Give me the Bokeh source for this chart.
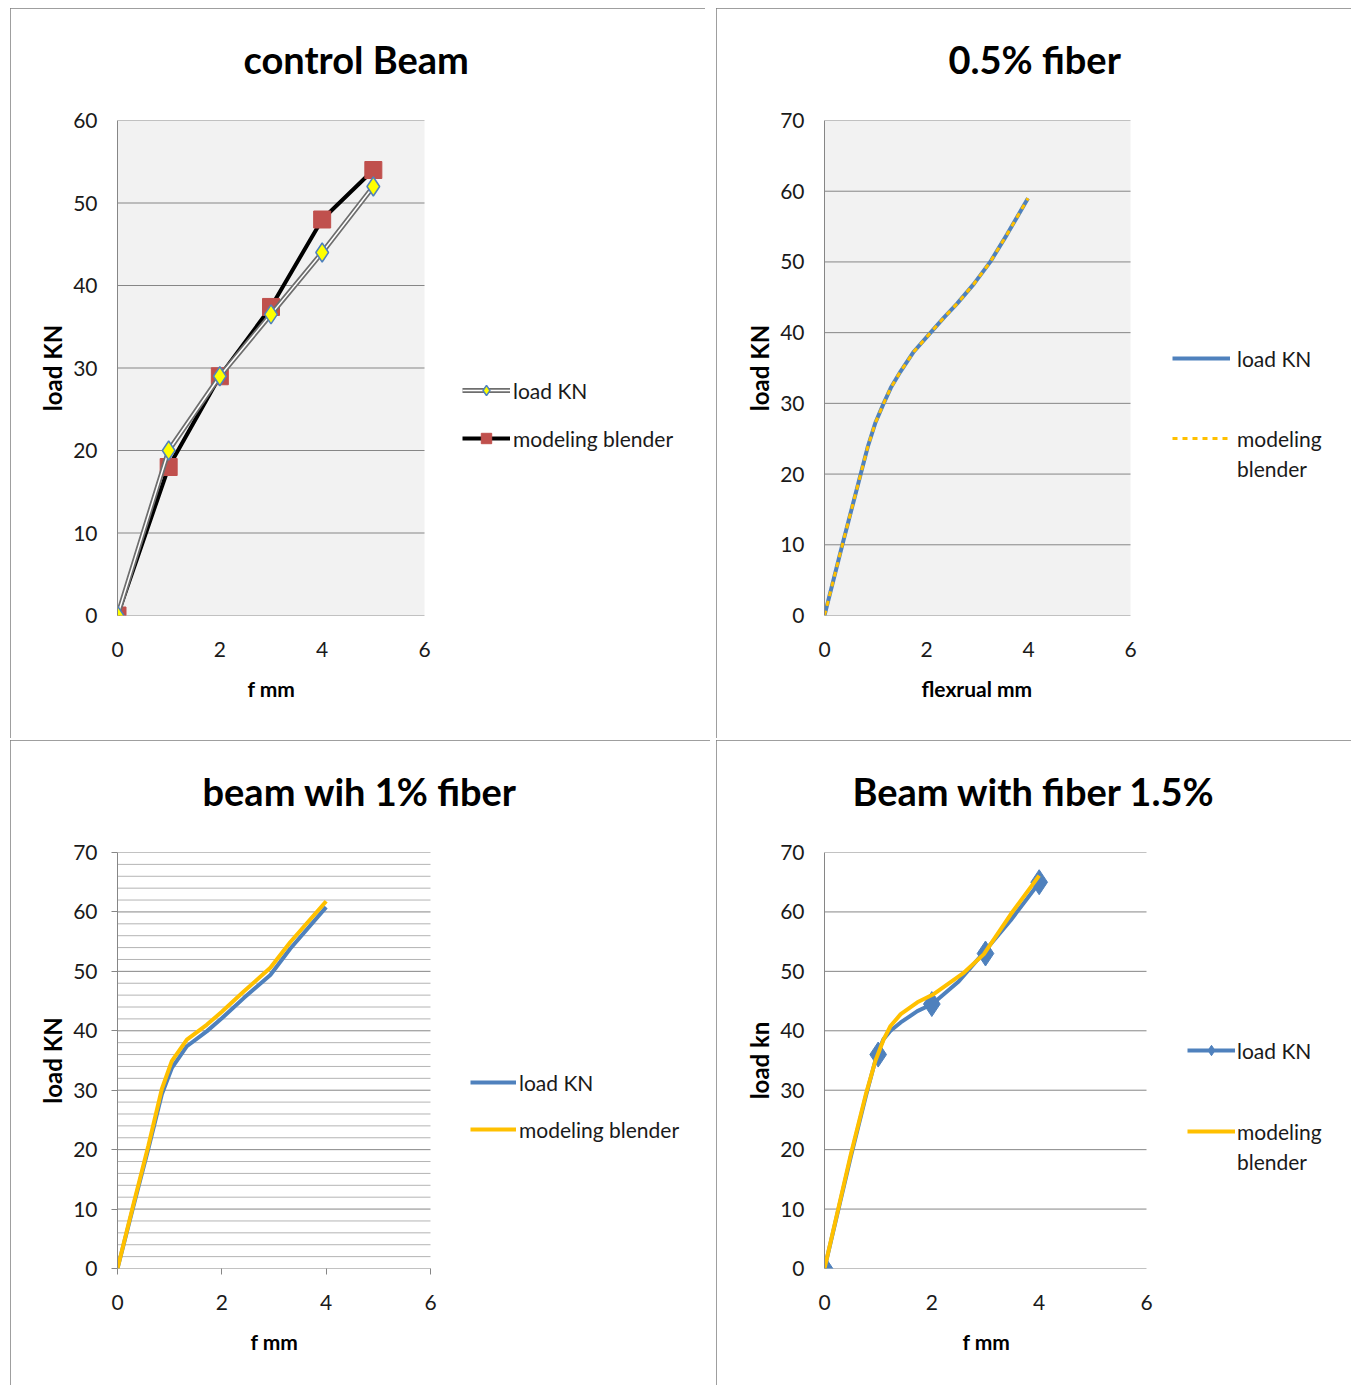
from bokeh.plotting import figure
from bokeh.layouts import column, row
from bokeh.models import Spacer, Legend, LegendItem, FixedTicker, Range1d, Title
from bokeh.embed import file_html
from bokeh.resources import INLINE

FONT = "Lato"
BLUE = "#4F81BD"
YELLOW = "#FFC000"
GRID = "#868686"

# ---------------- data ----------------
# control beam
cb_x = [0, 1, 2, 3, 4, 5]
cb_load = [0, 20, 29, 36.5, 44, 52]
cb_model = [0, 18, 29, 37.4, 48, 54]

# 0.5 % fiber
f05_x = [0, 0.35, 0.71, 0.85, 1.0, 1.16, 1.3, 1.49, 1.75, 2.08, 2.35, 2.60, 2.93, 3.25, 3.58, 3.99]
f05_load = [0, 10, 20, 23.9, 27.3, 30, 32.2, 34.5, 37.3, 40, 42.2, 44.1, 46.9, 50, 53.9, 59]
f05_model = [0, 10, 20, 23.9, 27.3, 30, 32.2, 34.5, 37.3, 40, 42.2, 44.1, 46.9, 50, 53.9, 59]

# 1 % fiber
f10_x = [0, 0.30, 0.59, 0.85, 1.04, 1.33, 1.71, 2.0, 2.42, 2.93, 3.31, 4.0]
f10_load = [0, 10.3, 20.1, 29.3, 33.7, 37.4, 39.9, 42.1, 45.5, 49.4, 53.8, 60.8]
f10_model = [0, 10.6, 20.6, 30.2, 34.9, 38.5, 41.0, 43.2, 46.6, 50.6, 54.9, 61.8]

# 1.5 % fiber
f15_pts_x = [0, 1, 2, 3, 4]
f15_pts_load = [0, 36, 44.5, 53, 65]
f15_load_x = [0, 0.49, 0.77, 0.98, 1.1, 1.23, 1.42, 1.73, 2.01, 2.5, 2.97, 3.47, 4.0]
f15_load = [0, 18.8, 29, 36.1, 38.6, 40, 41.4, 43.3, 44.5, 48.3, 53.2, 58.6, 64.9]
f15_model_x = [0, 0.49, 0.77, 0.95, 1.1, 1.23, 1.42, 1.73, 2.04, 2.6, 2.97, 3.47, 4.0]
f15_model = [0, 19.2, 29.3, 35, 38.5, 40.8, 42.8, 44.8, 46.2, 49.8, 52.9, 59.6, 66.1]

x_ticks = [0, 2, 4, 6]
X_MAX = 6


def make_panel(w, h, left, top, bottom, plot_px, ymax, bg, title, title_offset,
               xlabel, xlabel_offset, ylabel, ticks_out=0, minor_step=None):
    right = 3
    frame_w = w - left - right
    x_end = X_MAX * frame_w / plot_px          # frame also hosts the legend area
    p = figure(width=w, height=h, x_range=Range1d(0, x_end), y_range=Range1d(0, ymax),
               output_backend="svg", toolbar_location=None,
               min_border_left=left, min_border_right=right,
               min_border_top=top, min_border_bottom=bottom)
    p.styles = {"outline": "2px solid #7f7f7f", "outline-offset": "-2px"}
    p.background_fill_color = "white"
    p.border_fill_color = "white"
    p.outline_line_color = None
    p.title.text = title
    p.title.align = "left"
    p.title.offset = title_offset
    p.title.standoff = 0
    p.title.text_font = FONT
    p.title.text_font_size = "38px"
    p.title.text_font_style = "bold"
    p.title.text_color = "black"
    # blank gap between the title and the plot area
    p.add_layout(Title(text=" ", text_font_size="10px", standoff=26), "above")

    p.xaxis.ticker = FixedTicker(ticks=x_ticks)
    yt = list(range(0, ymax + 1, 10))
    p.yaxis.ticker = FixedTicker(ticks=yt)
    for ax in (p.xaxis[0], p.yaxis[0]):
        ax.axis_line_color = GRID
        ax.major_tick_line_color = GRID
        ax.major_tick_in = 0
        ax.major_tick_out = ticks_out
        ax.minor_tick_line_color = None
        ax.major_label_text_font = FONT
        ax.major_label_text_font_size = "21px"
        ax.major_label_text_color = "#1a1a1a"
        ax.axis_label_text_font = FONT
        ax.axis_label_text_font_style = "bold"
        ax.axis_label_text_color = "black"
    p.xaxis.axis_line_color = None
    p.yaxis.axis_label = ylabel
    p.yaxis.axis_label_text_font_size = "24px"
    p.xaxis.major_label_standoff = 26 - ticks_out
    p.yaxis.major_label_standoff = 20 - ticks_out
    p.yaxis.axis_label_standoff = 3
    p.xgrid.visible = False
    p.ygrid.visible = False

    xt = Title(text=xlabel, align="left", offset=xlabel_offset, standoff=33,
               vertical_align="top", text_font=FONT, text_font_size="21px",
               text_font_style="bold", text_color="black")
    p.add_layout(xt, "below")

    # plot area background and horizontal gridlines, limited to the x axis span
    p.quad(left=[0], right=[X_MAX], bottom=[0], top=[ymax],
           fill_color=bg, line_color=None)
    if minor_step:
        mt = [v for v in range(0, ymax + 1, minor_step) if v % 10]
        p.segment(x0=[0] * len(mt), x1=[X_MAX] * len(mt), y0=mt, y1=mt,
                  line_color="#b4b4b4", line_width=1)
    p.segment(x0=[0] * len(yt), x1=[X_MAX] * len(yt), y0=yt, y1=yt,
              line_color=GRID, line_width=1)
    return p


def add_legend(p, items, x, y, glyph_width, standoff, spacing=4):
    lg = Legend(items=[LegendItem(label=lab, renderers=rs) for lab, rs in items],
                location=(x, y), orientation="vertical",
                border_line_color=None, background_fill_alpha=0,
                padding=0, margin=0, spacing=spacing,
                glyph_width=glyph_width, glyph_height=26, label_height=26,
                label_standoff=standoff, label_text_font=FONT,
                label_text_font_size="21px", label_text_color="#1a1a1a")
    p.add_layout(lg, "center")


# ---------- panel 1: control beam ----------
p1 = make_panel(695, 730, 107, 112, 123, 307, 60, "#F2F2F2",
                "control Beam", 126, "f mm", 130, "load KN")
m_line = p1.line(cb_x, cb_model, line_color="black", line_width=4)
m_pts = p1.scatter(cb_x, cb_model, marker="square", size=17,
                   fill_color="#C0504D", line_color="#C0504D")
l_outer = p1.line(cb_x, cb_load, line_color="#6e6e6e", line_width=5)
l_inner = p1.line(cb_x, cb_load, line_color="white", line_width=1.5)
l_pts = p1.scatter(cb_x, cb_load, marker="diamond", size=19,
                   fill_color="#FFFF00", line_color=BLUE, line_width=1.5)
add_legend(p1, [("load KN", [l_outer, l_inner, l_pts])], 345, 212, 48, 3)
add_legend(p1, [("modeling blender", [m_line, m_pts])], 345, 164, 48, 3)

# ---------- panel 2: 0.5 % fiber ----------
p2 = make_panel(635, 730, 108, 112, 123, 306, 70, "#F2F2F2",
                "0.5% fiber", 124, "flexrual mm", 97, "load KN")
b2 = p2.line(f05_x, f05_load, line_color=BLUE, line_width=4)
y2 = p2.line(f05_x, f05_model, line_color=YELLOW, line_width=3, line_dash="5 5")
e2 = p2.line([], [], line_alpha=0)
add_legend(p2, [("load KN", [b2])], 348, 244, 58, 7)
add_legend(p2, [("modeling", [y2]), ("blender", [e2])], 348, 134, 58, 7)

# ---------- panel 3: 1 % fiber ----------
p3 = make_panel(700, 645, 107, 110, 117, 313, 70, "white",
                "beam wih 1% fiber", 85, "f mm", 133, "load KN",
                ticks_out=6, minor_step=2)
b3 = p3.line(f10_x, f10_load, line_color=BLUE, line_width=4)
y3 = p3.line(f10_x, f10_model, line_color=YELLOW, line_width=4)
add_legend(p3, [("load KN", [b3])], 353, 173, 46, 3)
add_legend(p3, [("modeling blender", [y3])], 353, 126, 46, 3)

# ---------- panel 4: 1.5 % fiber ----------
p4 = make_panel(635, 645, 108, 112, 117, 322, 70, "white",
                "Beam with fiber 1.5%", 28, "f mm", 138, "load kn")
b4 = p4.line(f15_load_x, f15_load, line_color=BLUE, line_width=4)
b4p = p4.scatter(f15_pts_x, f15_pts_load, marker="diamond", size=25,
                 fill_color=BLUE, line_color=BLUE)
y4 = p4.line(f15_model_x, f15_model, line_color=YELLOW, line_width=4)
e4 = p4.line([], [], line_alpha=0)
add_legend(p4, [("load KN", [b4, b4p])], 363, 205, 48, 2)
add_legend(p4, [("modeling", [y4]), ("blender", [e4])], 363, 94, 48, 2)

layout = column(
    Spacer(width=1351, height=8),
    row(Spacer(width=10, height=730), p1, Spacer(width=11, height=730), p2),
    Spacer(width=1351, height=2),
    row(Spacer(width=10, height=645), p3, Spacer(width=6, height=645), p4),
)

open("out.html", "w").write(file_html(layout, INLINE))
